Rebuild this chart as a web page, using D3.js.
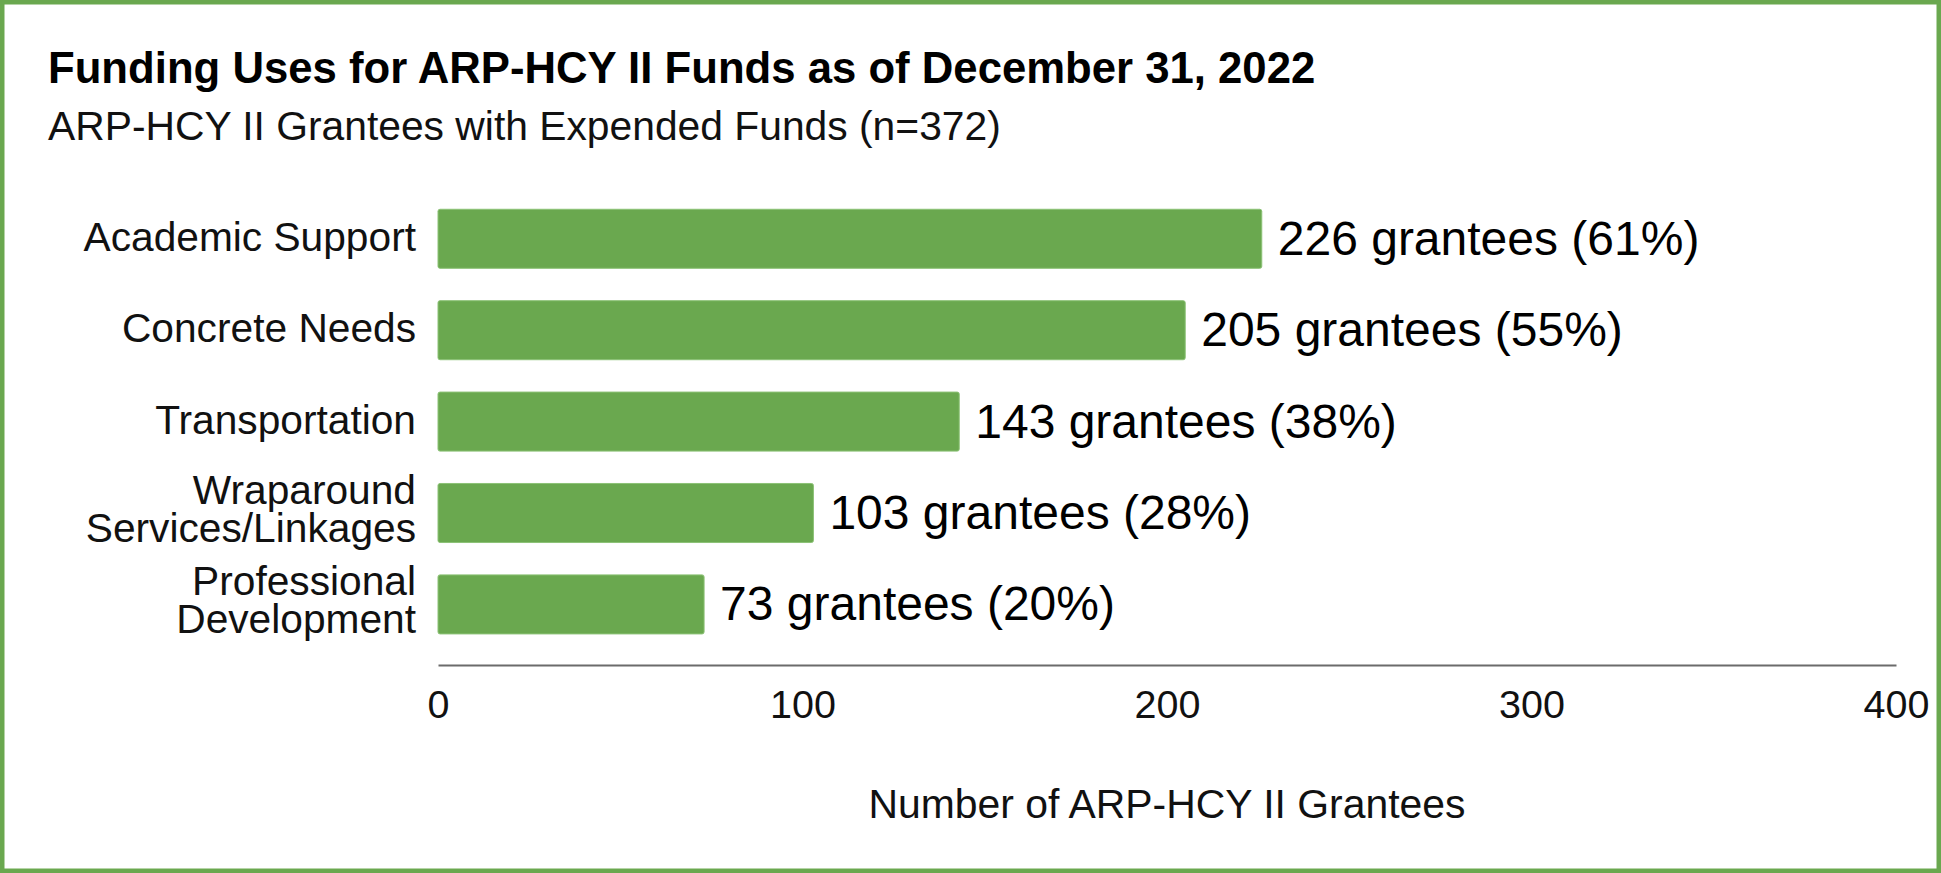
<!DOCTYPE html>
<html>
<head>
<meta charset="utf-8">
<script src="https://cdn.jsdelivr.net/npm/d3@7/dist/d3.min.js"></script>
<style>
  html, body { margin: 0; padding: 0; background: #ffffff; }
  svg { display: block; font-family: "Liberation Sans", Arial, sans-serif; }
</style>
</head>
<body>
<svg id="chart" width="1941" height="873"></svg>
<script>
// ---- data ----
const categories = ["Academic Support", "Concrete Needs", "Transportation", "Wraparound Services/Linkages", "Professional Development"];
const categoryLines = [["Academic Support"], ["Concrete Needs"], ["Transportation"], ["Wraparound", "Services/Linkages"], ["Professional", "Development"]];
const grantees = [226, 205, 143, 103, 73];
const percents = [61, 55, 38, 28, 20];
const tickValues = [0, 100, 200, 300, 400];
const titleText = "Funding Uses for ARP-HCY II Funds as of December 31, 2022";
const subtitleText = "ARP-HCY II Grantees with Expended Funds (n=372)";
const xAxisTitle = "Number of ARP-HCY II Grantees";

const W = 1941, H = 873;
const green = "#6aa84f";
const svg = d3.select("#chart");

// frame
svg.append("rect")
  .attr("x", 2.25).attr("y", 2.25)
  .attr("width", W - 4.5).attr("height", H - 4.5)
  .attr("fill", "#ffffff")
  .attr("stroke", green).attr("stroke-width", 4.5);

// titles
svg.append("text")
  .attr("x", 48).attr("y", 83)
  .attr("font-size", 43.7).attr("font-weight", "bold").attr("fill", "#000")
  .text(titleText);
svg.append("text")
  .attr("x", 48).attr("y", 140)
  .attr("font-size", 40.8).attr("fill", "#111")
  .text(subtitleText);

// scales
const x = d3.scaleLinear().domain([0, 400]).range([438, 1896]);
const y = d3.scaleBand().domain(categories).range([193.1, 650.1]).paddingInner(0.354).paddingOuter(0.177);

const data = categories.map((c, i) => ({ cat: c, lines: categoryLines[i], v: grantees[i], p: percents[i] }));

// bars
svg.append("g").selectAll("rect").data(data).join("rect")
  .attr("x", x(0))
  .attr("y", d => y(d.cat))
  .attr("width", d => x(d.v) - x(0))
  .attr("height", y.bandwidth())
  .attr("rx", 2)
  .attr("fill", green)
  .attr("stroke", "#8cc276").attr("stroke-width", 1);

// value labels
svg.append("g").selectAll("text").data(data).join("text")
  .attr("x", d => x(d.v) + 16)
  .attr("y", d => y(d.cat) + y.bandwidth() / 2 + 16)
  .attr("font-size", 48).attr("fill", "#000")
  .text(d => `${d.v} grantees (${d.p}%)`);

// category labels
const lineH = 38;
const cl = svg.append("g").selectAll("text").data(data).join("text")
  .attr("text-anchor", "end")
  .attr("font-size", 40.7).attr("fill", "#111")
  .attr("x", 416)
  .attr("y", d => y(d.cat) + y.bandwidth() / 2 + 12 - (d.lines.length - 1) * (lineH / 2 + 2.5));
cl.selectAll("tspan").data(d => d.lines).join("tspan")
  .attr("x", 416)
  .attr("dy", (d, i) => i === 0 ? 0 : lineH)
  .text(d => d);

// x axis
const axisG = svg.append("g").attr("transform", "translate(0,665)")
  .call(d3.axisBottom(x).tickValues(tickValues).tickSize(0).tickSizeOuter(0).tickPadding(0));
axisG.select(".domain").attr("stroke", "#6b6b6b").attr("stroke-width", 2.2);
axisG.selectAll(".tick text")
  .attr("y", 53).attr("dy", 0)
  .attr("font-size", 39.5).attr("fill", "#111")
  .attr("font-family", "\"Liberation Sans\", Arial, sans-serif");

// axis title
svg.append("text")
  .attr("x", (x(0) + x(400)) / 2).attr("y", 818)
  .attr("text-anchor", "middle")
  .attr("font-size", 40.9).attr("fill", "#111")
  .text(xAxisTitle);
</script>
</body>
</html>
